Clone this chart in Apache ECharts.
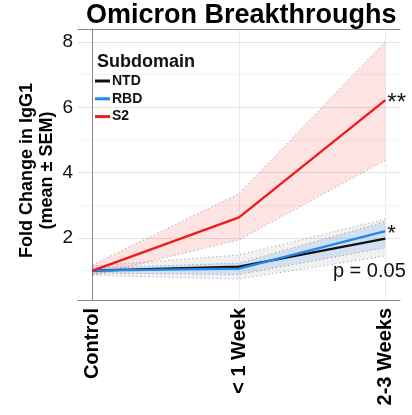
<!DOCTYPE html>
<html>
<head>
<meta charset="utf-8">
<script src="https://cdn.jsdelivr.net/npm/echarts@6/dist/echarts.min.js"></script>
<style>
  html, body { margin: 0; padding: 0; background: #fff; }
  #chart { width: 412px; height: 415px; }
</style>
</head>
<body>
<div id="chart"></div>
<script>
// Time points after breakthrough infection
const categories = ['Control', '< 1 Week', '2-3 Weeks'];

// Mean fold change in IgG1 per spike subdomain, with SEM bounds
const ntdMean  = [1.0, 1.12, 1.98];
const ntdLower = [0.86, 0.74, 1.45];
const ntdUpper = [1.14, 1.48, 2.58];

const rbdMean  = [1.0, 1.06, 2.21];
const rbdLower = [0.92, 0.88, 1.70];
const rbdUpper = [1.08, 1.23, 2.50];

const s2Mean  = [1.0, 2.63, 6.22];
const s2Lower = [0.86, 1.94, 4.38];
const s2Upper = [1.18, 3.36, 8.02];

// Significance marks at the last time point
const s2Sig = '**';
const rbdSig = '*';
const ntdP = 'p = 0.05';

const yMajorTicks = [2, 4, 6, 8];
const yGridValues = [1, 2, 3, 4, 5, 6, 7, 8];

const FONT = '"Liberation Sans", Arial, sans-serif';
const COLORS = { NTD: '#111111', RBD: '#1E88F0', S2: '#F01A1A' };
const FILLS = {
  NTD: 'rgba(120,120,120,0.10)',
  RBD: 'rgba(40,130,230,0.15)',
  S2: 'rgba(245,40,40,0.13)'
};

const toXY = arr => arr.map((v, i) => [i, v]);

function bandSeries(name, lower, upper) {
  return {
    name: name + ' SEM',
    type: 'custom',
    silent: true,
    z: 1,
    data: [[0, lower[0]]],
    renderItem: function (params, api) {
      const top = upper.map((v, i) => api.coord([i, v]));
      const bottom = lower.map((v, i) => api.coord([i, v])).reverse();
      return {
        type: 'polygon',
        shape: { points: top.concat(bottom) },
        style: { fill: FILLS[name], stroke: null }
      };
    }
  };
}

function boundSeries(name, values) {
  return {
    name: name + ' bound',
    type: 'line',
    data: toXY(values),
    symbol: 'none',
    silent: true,
    z: 2,
    lineStyle: { color: '#555', width: 0.7, type: [1, 3], opacity: 0.8 }
  };
}

function meanSeries(name, values, z) {
  return {
    name: name,
    type: 'line',
    data: toXY(values),
    symbol: 'none',
    z: z,
    lineStyle: { color: COLORS[name], width: 2.4 },
    itemStyle: { color: COLORS[name] },
    emphasis: { disabled: true }
  };
}

function markAt(x, y, text, fontSize, offset, position) {
  return {
    coord: [x, y],
    symbolSize: 0,
    label: {
      show: true,
      formatter: text,
      position: position,
      distance: 2,
      offset: offset,
      color: '#111',
      fontFamily: FONT,
      fontSize: fontSize
    }
  };
}

const last = categories.length - 1;

const ntdLine = meanSeries('NTD', ntdMean, 5);
ntdLine.markPoint = {
  silent: true,
  symbolSize: 0,
  data: [markAt(last, ntdMean[last], ntdP, 20, [-16, 33], 'inside')]
};
const rbdLine = meanSeries('RBD', rbdMean, 6);
rbdLine.markPoint = {
  silent: true,
  symbolSize: 0,
  data: [markAt(last, rbdMean[last], rbdSig, 22, [0, 3], 'right')]
};
const s2Line = meanSeries('S2', s2Mean, 7);
s2Line.markPoint = {
  silent: true,
  symbolSize: 0,
  data: [markAt(last, s2Mean[last], s2Sig, 24, [0, 3], 'right')]
};

const chart = echarts.init(document.getElementById('chart'), null, { renderer: 'canvas' });

chart.setOption({
  backgroundColor: '#ffffff',
  animation: false,
  textStyle: { fontFamily: FONT },
  title: [
    {
      text: 'Omicron Breakthroughs',
      left: 81,
      top: -3,
      textStyle: { fontFamily: FONT, fontSize: 27, fontWeight: 'bold', color: '#000', lineHeight: 28 }
    },
    {
      text: 'Subdomain',
      left: 92,
      top: 48,
      textStyle: { fontFamily: FONT, fontSize: 18, fontWeight: 'bold', color: '#111', lineHeight: 18 }
    }
  ],
  legend: {
    data: ['NTD', 'RBD', 'S2'],
    orient: 'vertical',
    left: 90,
    top: 69,
    icon: 'rect',
    itemWidth: 15,
    itemHeight: 3,
    itemGap: 3.8,
    selectedMode: false,
    textStyle: { fontFamily: FONT, fontSize: 14, fontWeight: 'bold', color: '#111', lineHeight: 14, padding: [0, 0, 0, -3] }
  },
  grid: { left: 78, right: 12, top: 29, bottom: 115, containLabel: false },
  xAxis: [
    {
      type: 'value',
      min: -0.1,
      max: 2.1,
      axisLine: { show: true, onZero: false, lineStyle: { color: '#8a8a8a', width: 1 } },
      axisTick: { show: false, customValues: [0, 1, 2] },
      splitLine: { show: true, lineStyle: { color: '#ececec', width: 1 } },
      axisLabel: {
        customValues: [0, 1, 2],
        formatter: v => categories[Math.round(v)],
        rotate: 90,
        margin: 8,
        color: '#000',
        fontFamily: FONT,
        fontSize: 20,
        fontWeight: 'bold'
      }
    },
    {
      type: 'value',
      position: 'top',
      min: -0.1,
      max: 2.1,
      axisLine: { show: true, lineStyle: { color: '#8a8a8a', width: 1 } },
      axisTick: { show: false },
      axisLabel: { show: false },
      splitLine: { show: false }
    }
  ],
  yAxis: {
    type: 'value',
    min: 0.1,
    max: 8.4,
    name: 'Fold Change in IgG1\n(mean ± SEM)',
    nameLocation: 'middle',
    nameRotate: 90,
    nameGap: 21,
    nameMoveOverlap: false,
    nameTextStyle: { fontFamily: FONT, fontSize: 18, fontWeight: 'bold', color: '#000', lineHeight: 20, padding: [0, 12, 0, 0] },
    axisLine: { show: true, lineStyle: { color: '#8a8a8a', width: 1 } },
    axisTick: { show: false, customValues: yGridValues },
    splitLine: { show: true, lineStyle: { color: ['#f4f4f4', '#e4e4e4'], width: 1 } },
    axisLabel: {
      customValues: yMajorTicks,
      margin: 5,
      color: '#111',
      fontFamily: FONT,
      fontSize: 19
    }
  },
  series: [
    bandSeries('NTD', ntdLower, ntdUpper),
    bandSeries('RBD', rbdLower, rbdUpper),
    bandSeries('S2', s2Lower, s2Upper),
    boundSeries('NTD lower', ntdLower),
    boundSeries('NTD upper', ntdUpper),
    boundSeries('RBD lower', rbdLower),
    boundSeries('RBD upper', rbdUpper),
    boundSeries('S2 lower', s2Lower),
    boundSeries('S2 upper', s2Upper),
    ntdLine,
    rbdLine,
    s2Line
  ]
});
</script>
</body>
</html>
